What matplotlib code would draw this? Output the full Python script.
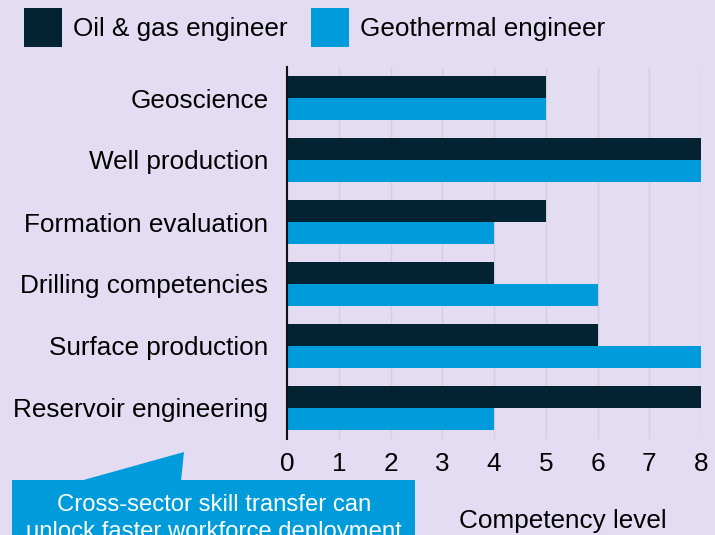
import matplotlib
matplotlib.use("Agg")
import matplotlib.pyplot as plt
from matplotlib.patches import Patch, Rectangle, Polygon
import numpy as np

categories = ["Geoscience", "Well production", "Formation evaluation",
              "Drilling competencies", "Surface production", "Reservoir engineering"]
oil_gas = [5, 8, 5, 4, 6, 8]
geothermal = [5, 8, 4, 6, 8, 4]
series_names = ["Oil & gas engineer", "Geothermal engineer"]
x_ticks = [0, 1, 2, 3, 4, 5, 6, 7, 8]
x_label = "Competency level"
callout_text = "Cross-sector skill transfer can\nunlock faster workforce deployment"

BG = "#E4DCF2"
DARK = "#032232"
BLUE = "#009BDB"

plt.rcParams["font.family"] = ["Liberation Sans", "DejaVu Sans"]

W, H = 715, 535
fig = plt.figure(figsize=(W / 100, H / 100), dpi=100, facecolor=BG)
ax = fig.add_axes([287 / W, 1 - 439 / H, (701 - 287) / W, (439 - 67) / H])
ax.set_facecolor(BG)

y = np.arange(len(categories))
h = 0.355
ax.barh(y - h / 2, oil_gas, height=h, color=DARK, zorder=3)
ax.barh(y + h / 2, geothermal, height=h, color=BLUE, zorder=3)

ax.set_ylim(len(categories) - 0.5, -0.5)
ax.set_xlim(0, 8)
ax.set_xticks(x_ticks)
ax.set_yticks(y)
ax.set_yticklabels(categories)
ax.tick_params(axis="both", length=0, labelsize=18.8, colors="black")
ax.tick_params(axis="y", pad=13.5)
ax.tick_params(axis="x", pad=9.5)
ax.grid(axis="x", color="#D4CEDF", linewidth=1.0, zorder=0)
for s in ["top", "right", "bottom"]:
    ax.spines[s].set_visible(False)
ax.spines["left"].set_color("#111111")
ax.spines["left"].set_linewidth(1.5)
ax.spines["left"].set_zorder(4)

ax.set_xlabel(x_label, fontsize=18.8)
ax.xaxis.set_label_coords(0.667, -0.188)

handles = [Patch(facecolor=DARK, edgecolor="none"), Patch(facecolor=BLUE, edgecolor="none")]
fig.legend(handles, series_names, loc="upper left", bbox_to_anchor=(24 / W, 1 - 8 / H),
           ncol=2, frameon=False, fontsize=18.8, handlelength=1.44, handleheight=1.92,
           handletextpad=0.42, columnspacing=0.92, borderpad=0, borderaxespad=0)

# callout box with pointer
tf = fig.transFigure
box = Rectangle((12 / W, 0), (415 - 12) / W, (H - 480) / H, transform=tf,
                facecolor=BLUE, edgecolor="none", zorder=5)
fig.patches.append(box)
tri = Polygon([(80 / W, 1 - 481 / H), (184 / W, 1 - 452 / H), (181 / W, 1 - 481 / H)],
              closed=True, transform=tf, facecolor=BLUE, edgecolor="none", zorder=5)
fig.patches.append(tri)
fig.text(214 / W, 1 - 494 / H, callout_text, color="white", fontsize=17.2,
         ha="center", va="top", linespacing=1.3, zorder=6, transform=tf)

fig.savefig("out.png", dpi=100, facecolor=BG)
